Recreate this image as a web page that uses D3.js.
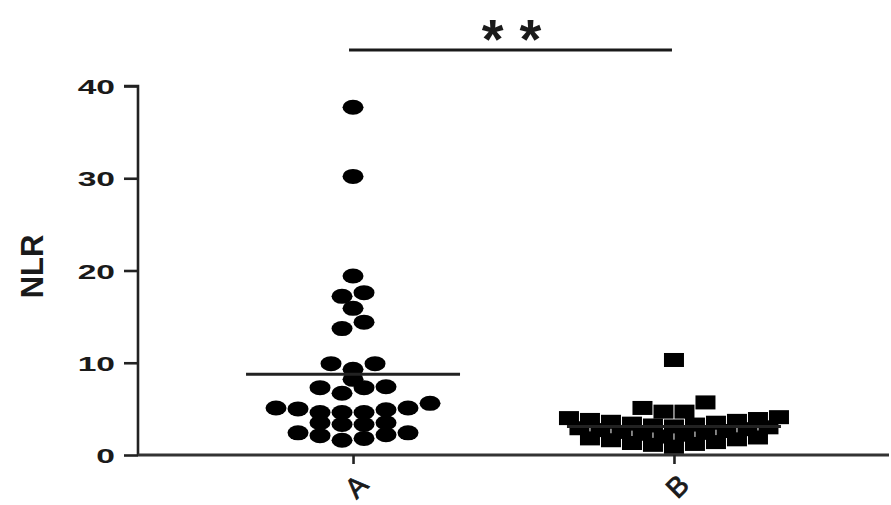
<!DOCTYPE html>
<html>
<head>
<meta charset="utf-8">
<script src="https://cdn.jsdelivr.net/npm/d3@7"></script>
<style>
  html, body { margin: 0; padding: 0; background: #fff; }
  svg { display: block; }
  text { font-family: "Liberation Sans", Arial, sans-serif; font-weight: bold; fill: #1a1a1a; }
</style>
</head>
<body>
<div id="chart"></div>
<script>
// ---------- data ----------
const categories = ["A", "B"];
const valuesA = [37.7, 30.2, 19.4, 17.6, 17.2, 15.9, 14.4, 13.7,
  9.9, 9.9, 9.3, 8.2, 7.4, 7.3, 7.3, 6.7,
  5.6, 5.1, 5.1, 5.0, 4.9, 4.6, 4.6, 4.6,
  3.5, 3.5, 3.3, 3.3, 2.4, 2.4, 2.2, 2.1, 1.8, 1.6];
const valuesB = [10.3, 5.7, 5.1, 4.7, 4.7,
  4.1, 4.0, 3.9, 3.8, 3.7, 3.6, 3.5, 3.4, 3.3, 3.2,
  3.1, 3.0, 2.9, 2.8, 2.7, 2.6, 2.5, 2.4, 2.3,
  2.2, 2.0, 1.9, 1.8, 1.7, 1.6, 1.4,
  1.3, 1.2, 1.1, 0.9];
const yTicks = [0, 10, 20, 30, 40];
const yLabel = "NLR";
const significance = "**";

// ---------- layout ----------
const W = 891, H = 505;
const margin = { left: 138, right: 2, top: 86, bottom: 50 };

const svg = d3.select("#chart").append("svg")
  .attr("width", W).attr("height", H);

const y = d3.scaleLinear().domain([0, 40]).range([H - margin.bottom, margin.top]);
const x = d3.scalePoint().domain(categories).range([margin.left, W - margin.right]).padding(0.67);

// GraphPad-like row scatter layout: group close values into rows, spread centre-out
function rowLayout(values, threshold, spacing) {
  const sorted = values.slice().sort((a, b) => a - b);
  const rows = [];
  let cur = null;
  sorted.forEach(v => {
    if (!cur || v - cur[0] > threshold + 1e-9) { cur = [v]; rows.push(cur); }
    else cur.push(v);
  });
  const out = [];
  rows.forEach(row => {
    const n = row.length;
    const slots = d3.range(n).map(i => (i - (n - 1) / 2) * spacing);
    const order = slots.map((s, i) => i).sort((a, b) => {
      const da = Math.abs(slots[a]), db = Math.abs(slots[b]);
      return da !== db ? da - db : a - b;
    });
    row.forEach((v, k) => out.push({ v, dx: slots[order[k]] }));
  });
  return out;
}

// ---------- axes ----------
const yAxis = d3.axisLeft(y).tickValues(yTicks).tickSize(14).tickPadding(0);
const gy = svg.append("g").attr("transform", `translate(${margin.left},0)`).call(yAxis);
gy.select(".domain").attr("stroke", "#222").attr("stroke-width", 2.6).attr("d", `M-14,${y(40)}H0V${y(0)}`);
gy.selectAll(".tick line").attr("stroke", "#222").attr("stroke-width", 2.6);
gy.selectAll(".tick text")
  .attr("x", -23 / 1.6).attr("dy", "0.36em")
  .attr("transform", "scale(1.6,1)")
  .style("font-size", "21px").style("font-weight", "bold")
  .style("font-family", "'Liberation Sans', Arial, sans-serif")
  .attr("fill", "#1a1a1a");

const xAxis = d3.axisBottom(x).tickSize(9).tickFormat(() => "");
const gx = svg.append("g").attr("transform", `translate(0,${y(0)})`).call(xAxis);
gx.select(".domain").attr("stroke", "#333").attr("stroke-width", 3)
  .attr("d", `M${margin.left},0H${W - margin.right}`);
gx.selectAll(".tick line").attr("stroke", "#222").attr("stroke-width", 2.6);

// rotated category labels
svg.selectAll(".cat").data(categories).enter().append("text")
  .attr("class", "cat")
  .attr("transform", d => `translate(${x(d) + 3},${y(0) + 31}) rotate(-45)`)
  .attr("text-anchor", "middle")
  .attr("dy", "0.36em")
  .style("font-size", "28px").style("font-weight", "normal")
  .attr("stroke", "#1a1a1a").attr("stroke-width", 0.8)
  .text(d => d);

// y label
svg.append("text")
  .attr("transform", `translate(43,${(233 + 300) / 2}) rotate(-90)`)
  .attr("text-anchor", "middle")
  .style("font-size", "31px")
  .text(yLabel);

// ---------- points ----------
const ptsA = rowLayout(valuesA, 1.0, 22);
const ptsB = rowLayout(valuesB, 1.0, 21);

svg.append("g").selectAll("ellipse").data(ptsA).enter().append("ellipse")
  .attr("cx", d => x("A") + d.dx)
  .attr("cy", d => y(d.v))
  .attr("rx", 10.5).attr("ry", 7.5)
  .attr("fill", "#000");

svg.append("g").selectAll("rect").data(ptsB).enter().append("rect")
  .attr("x", d => x("B") + d.dx - 10)
  .attr("y", d => y(d.v) - 7)
  .attr("width", 20).attr("height", 14)
  .attr("fill", "#000");

// mean lines
const means = [{ c: "A", m: d3.mean(valuesA) }, { c: "B", m: d3.mean(valuesB) }];
svg.append("g").selectAll("line").data(means).enter().append("line")
  .attr("x1", d => x(d.c) - 107).attr("x2", d => x(d.c) + 107)
  .attr("y1", d => y(d.m)).attr("y2", d => y(d.m))
  .attr("stroke", "#222").attr("stroke-width", 3);

// significance bar
const barY = 50;
svg.append("line")
  .attr("x1", x("A") - 4).attr("x2", x("B") - 2)
  .attr("y1", barY).attr("y2", barY)
  .attr("stroke", "#1a1a1a").attr("stroke-width", 3);
svg.append("text")
  .attr("x", (x("A") + x("B")) / 2 + 6)
  .attr("y", 58)
  .attr("text-anchor", "middle")
  .style("font-size", "56px")
  .style("letter-spacing", "16px")
  .text(significance);
</script>
</body>
</html>
